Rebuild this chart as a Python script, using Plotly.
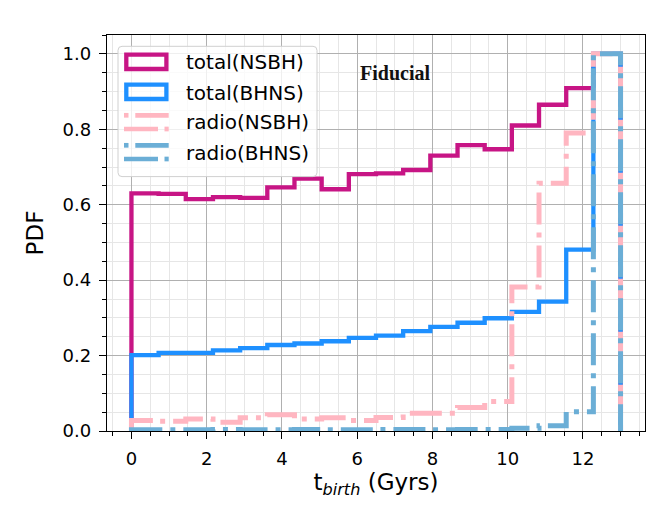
import plotly.graph_objects as go

# bin edges of the birth-time histograms (Gyrs)
bin_edges = [0.0, 0.722, 1.444, 2.167, 2.889, 3.611, 4.333, 5.056, 5.778, 6.5,
             7.222, 7.944, 8.667, 9.389, 10.111, 10.833, 11.556, 12.278, 13.0]

# normalised PDF per bin
total_nsbh = [0.630, 0.629, 0.615, 0.620, 0.618, 0.646, 0.669, 0.641, 0.681,
              0.683, 0.692, 0.730, 0.758, 0.747, 0.810, 0.865, 0.909, 1.0]
total_bhns = [0.201, 0.207, 0.207, 0.214, 0.220, 0.228, 0.232, 0.238, 0.247,
              0.253, 0.265, 0.276, 0.287, 0.299, 0.316, 0.343, 0.481, 1.0]
radio_nsbh = [0.028, 0.026, 0.032, 0.023, 0.035, 0.043, 0.032, 0.035, 0.028,
              0.036, 0.047, 0.047, 0.062, 0.078, 0.382, 0.657, 0.790, 1.0]
radio_bhns = [0.003, 0.003, 0.003, 0.004, 0.003, 0.003, 0.004, 0.003, 0.003,
              0.004, 0.004, 0.003, 0.004, 0.004, 0.007, 0.014, 0.051, 1.0]

labels = ['total(NSBH)', 'total(BHNS)', 'radio(NSBH)', 'radio(BHNS)']
colors = ['#C71585', '#1E90FF', '#FFB6C1', '#6BAED6']

x_ticks = [0, 2, 4, 6, 8, 10, 12]
y_ticks = [0.0, 0.2, 0.4, 0.6, 0.8, 1.0]

# figure geometry (pixels)
W, H = 664, 517
L, R, T, B = 99, 27, 27, 94
PW, PH = W - L - R, H - T - B

DASHDOT = '32px,8px,5px,8px'


def px(x):
    return (x - L) / PW


def py(y):
    return (T + PH - y) / PH


def step_xy(edges, vals):
    # matplotlib histtype='step' outline, drawn with line_shape='hv'
    xs = [edges[0]] + list(edges)
    ys = [0] + list(vals) + [0]
    return xs, ys


fig = go.Figure()

series = [total_nsbh, total_bhns, radio_nsbh, radio_bhns]
for i, vals in enumerate(series):
    xs, ys = step_xy(bin_edges, vals)
    radio = i >= 2
    fig.add_trace(go.Scatter(
        x=xs, y=ys, mode='lines', name=labels[i],
        line=dict(color=colors[i], width=5 if radio else 4.3, shape='hv',
                  dash=DASHDOT if radio else 'solid'),
        hoverinfo='skip'
    ))

# hand-drawn legend so the handles look like matplotlib patches
shapes = []
x0p, x1p = 110, 309
y0p, y1p = 38.3, 168.6
rad = 4
path = (f"M{px(x0p + rad)},{py(y0p)} L{px(x1p - rad)},{py(y0p)} "
        f"Q{px(x1p)},{py(y0p)} {px(x1p)},{py(y0p + rad)} "
        f"L{px(x1p)},{py(y1p - rad)} Q{px(x1p)},{py(y1p)} {px(x1p - rad)},{py(y1p)} "
        f"L{px(x0p + rad)},{py(y1p)} Q{px(x0p)},{py(y1p)} {px(x0p)},{py(y1p - rad)} "
        f"L{px(x0p)},{py(y0p + rad)} Q{px(x0p)},{py(y0p)} {px(x0p + rad)},{py(y0p)} Z")
shapes.append(dict(type='path', xref='paper', yref='paper', path=path,
                   fillcolor='rgba(255,255,255,0.8)',
                   line=dict(color='#d0d0d0', width=1)))

row_h = 30
for i in range(2):
    top = 46.6 + i * row_h
    shapes.append(dict(type='rect', xref='paper', yref='paper',
                       x0=px(118.3), x1=px(158.4), y0=py(top), y1=py(top + 14.4),
                       line=dict(color=colors[i], width=4.3),
                       fillcolor='rgba(0,0,0,0)'))
for i in range(2, 4):
    top = 107.3 + (i - 2) * row_h
    bot = top + 13.7
    for (a, b, yy) in [(116, 120.5, top), (127.3, 160.7, top),
                       (116, 150, bot), (156.5, 160.7, bot)]:
        shapes.append(dict(type='line', xref='paper', yref='paper',
                           x0=px(a), x1=px(b), y0=py(yy), y1=py(yy),
                           line=dict(color=colors[i], width=4.7)))

annotations = []
for i, lab in enumerate(labels):
    annotations.append(dict(xref='paper', yref='paper', x=px(176),
                            y=py(54.5 + i * row_h), text=lab, showarrow=False,
                            xanchor='left', yanchor='middle',
                            font=dict(family='DejaVu Sans', size=20, color='black')))

annotations.append(dict(x=7.0, y=0.95, xref='x', yref='y', text='<b>Fiducial</b>',
                        showarrow=False, xanchor='center', yanchor='middle',
                        font=dict(family='Liberation Serif', size=20, color='#111111')))

axis_common = dict(
    showline=True, linecolor='black', linewidth=1.3, mirror=True,
    ticks='outside', ticklen=7, tickwidth=1.2, tickcolor='black',
    showgrid=True, gridcolor='#b0b0b0', gridwidth=1.1, zeroline=False,
    tickfont=dict(family='DejaVu Sans', size=18, color='black'),
)

fig.update_layout(
    width=W, height=H,
    margin=dict(l=L, r=R, t=T, b=B),
    paper_bgcolor='white', plot_bgcolor='white',
    showlegend=False,
    font=dict(family='DejaVu Sans', color='black'),
    xaxis=dict(range=[-0.65, 13.65], tickvals=x_ticks,
               ticktext=[str(v) for v in x_ticks],
               minor=dict(dtick=0.5, tick0=0, ticks='outside', ticklen=3.5,
                          tickcolor='black', showgrid=True, gridcolor='#e6e6e6',
                          gridwidth=1),
               title=dict(text='t<sub><i>birth</i></sub> (Gyrs)', standoff=4,
                          font=dict(family='DejaVu Sans', size=23, color='black')),
               ticklabelstandoff=4,
               **axis_common),
    yaxis=dict(range=[0, 1.05], tickvals=y_ticks,
               ticktext=[f'{v:.1f}' for v in y_ticks],
               minor=dict(dtick=0.05, tick0=0, ticks='outside', ticklen=3.5,
                          tickcolor='black', showgrid=True, gridcolor='#e6e6e6',
                          gridwidth=1),
               title=dict(text='PDF', standoff=12,
                          font=dict(family='DejaVu Sans', size=23, color='black')),
               ticklabelstandoff=4,
               **axis_common),
    shapes=shapes,
    annotations=annotations,
)

fig.write_html('out.html')
